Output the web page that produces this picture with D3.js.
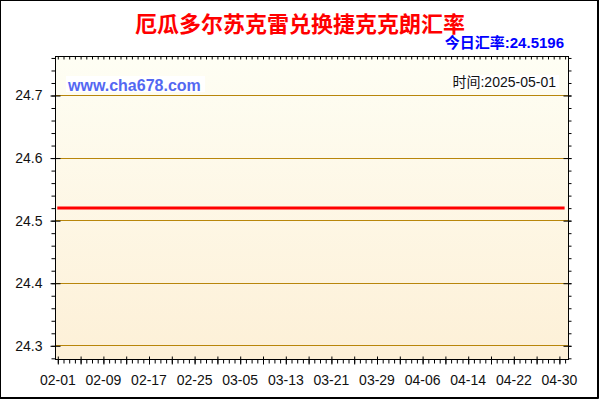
<!DOCTYPE html>
<html>
<head>
<meta charset="utf-8">
<script src="https://cdn.jsdelivr.net/npm/d3@7"></script>
<style>
  body { margin: 0; background: #fff; }
  svg { display: block; }
</style>
</head>
<body>
<svg id="chart" width="600" height="400"></svg>
<script>
// ---- data ----
const titleText = "厄瓜多尔苏克雷兑换捷克克朗汇率";
const todayText = "今日汇率:";
const todayRate = "24.5196";
const siteText = "www.cha678.com";
const timeText = "时间:2025-05-01";

const startDay = "2025-02-01";
// daily rates, 02-01 .. 05-01
const rates = [
  24.5196, 24.5196, 24.5196, 24.5196, 24.5196, 24.5196, 24.5196, 24.5196, 24.5196, 24.5196,
  24.5196, 24.5196, 24.5196, 24.5196, 24.5196, 24.5196, 24.5196, 24.5196, 24.5196, 24.5196,
  24.5196, 24.5196, 24.5196, 24.5196, 24.5196, 24.5196, 24.5196, 24.5196, 24.5196, 24.5196,
  24.5196, 24.5196, 24.5196, 24.5196, 24.5196, 24.5196, 24.5196, 24.5196, 24.5196, 24.5196,
  24.5196, 24.5196, 24.5196, 24.5196, 24.5196, 24.5196, 24.5196, 24.5196, 24.5196, 24.5196,
  24.5196, 24.5196, 24.5196, 24.5196, 24.5196, 24.5196, 24.5196, 24.5196, 24.5196, 24.5196,
  24.5196, 24.5196, 24.5196, 24.5196, 24.5196, 24.5196, 24.5196, 24.5196, 24.5196, 24.5196,
  24.5196, 24.5196, 24.5196, 24.5196, 24.5196, 24.5196, 24.5196, 24.5196, 24.5196, 24.5196,
  24.5196, 24.5196, 24.5196, 24.5196, 24.5196, 24.5196, 24.5196, 24.5196, 24.5196, 24.5196
];
const xLabels = ["02-01", "02-09", "02-17", "02-25", "03-05", "03-13",
                 "03-21", "03-29", "04-06", "04-14", "04-22", "04-30"];
const yTicks = [24.3, 24.4, 24.5, 24.6, 24.7];

// ---- layout ----
const plot = { left: 55, right: 568, top: 56, bottom: 359 };
const latin = "'Liberation Sans', Arial, sans-serif";
const cjk = "'Liberation Sans', 'Noto Sans CJK SC', sans-serif";

const svg = d3.select("#chart");
const parse = d3.timeParse("%Y-%m-%d");
const fmt = d3.timeFormat("%m-%d");
const day0 = parse(startDay);
const days = rates.map((v, i) => ({ date: d3.timeDay.offset(day0, i), value: v }));

const x = d3.scaleTime()
  .domain([days[0].date, days[days.length - 1].date])
  .range([57.3, 564.6]);
const y = d3.scaleLinear()
  .domain([24.3, 24.7])
  .range([345.3, 95]);

// background gradient
const grad = svg.append("defs").append("linearGradient")
  .attr("id", "bg").attr("x1", 0).attr("y1", 0).attr("x2", 0).attr("y2", 1);
grad.append("stop").attr("offset", "0%").attr("stop-color", "#fefef4");
grad.append("stop").attr("offset", "100%").attr("stop-color", "#fdf0d7");

svg.append("rect")
  .attr("x", plot.left).attr("y", plot.top)
  .attr("width", plot.right - plot.left).attr("height", plot.bottom - plot.top)
  .attr("fill", "url(#bg)");

// grid lines
svg.append("g").selectAll("line")
  .data(yTicks)
  .join("line")
  .attr("x1", plot.left).attr("x2", plot.right)
  .attr("y1", d => Math.round(y(d)) + 0.5).attr("y2", d => Math.round(y(d)) + 0.5)
  .attr("stroke", "#b8860b").attr("stroke-width", 1);

// rate line
svg.append("path")
  .datum(days)
  .attr("fill", "none")
  .attr("stroke", "#ff0000")
  .attr("stroke-width", 3)
  .attr("d", d3.line().x(d => x(d.date)).y(d => y(d.value)));

// plot frame
svg.append("rect")
  .attr("x", plot.left + 0.5).attr("y", plot.top + 0.5)
  .attr("width", plot.right - plot.left).attr("height", plot.bottom - plot.top)
  .attr("fill", "none").attr("stroke", "#000");

// ---- axes ----
const allDays = days.map(d => d.date);
const majorDays = allDays.filter((d, i) => i % 4 === 0);
const labelDays = xLabels.map(s => allDays.find(d => fmt(d) === s));
const minorY = d3.range(24.28, 24.765, 0.02);

function plain(g) {
  g.select(".domain").remove();
  g.selectAll(".tick line").attr("stroke", "#000");
}

// top: small daily ticks pointing in
svg.append("g")
  .attr("transform", `translate(0.5,${plot.top + 0.5})`)
  .call(d3.axisBottom(x).tickValues(allDays).tickSize(3).tickFormat(""))
  .call(plain);

// bottom: daily minor ticks, majors every 4 days
svg.append("g")
  .attr("transform", `translate(0.5,${plot.bottom + 0.5})`)
  .call(d3.axisBottom(x).tickValues(allDays).tickSize(4).tickFormat(""))
  .call(plain);
svg.append("g")
  .attr("transform", `translate(0.5,${plot.bottom + 0.5})`)
  .call(d3.axisBottom(x).tickValues(majorDays).tickSize(5).tickFormat(""))
  .call(plain)
  .call(g => g.selectAll(".tick line").attr("y1", -3));

// bottom labels
svg.append("g")
  .attr("transform", `translate(0,${plot.bottom})`)
  .call(d3.axisBottom(x).tickValues(labelDays).tickSize(0).tickPadding(0).tickFormat(fmt))
  .call(g => g.select(".domain").remove())
  .call(g => g.selectAll(".tick text")
    .attr("y", 26).attr("dy", 0)
    .attr("font-family", latin).attr("font-size", 14).attr("fill", "#111"));

// left axis
svg.append("g")
  .attr("transform", `translate(${plot.left + 0.5},0.5)`)
  .call(d3.axisLeft(y).tickValues(minorY).tickSize(4).tickFormat(""))
  .call(plain);
svg.append("g")
  .attr("transform", `translate(${plot.left + 0.5},0.5)`)
  .call(d3.axisLeft(y).tickValues(yTicks).tickSize(5).tickPadding(8).tickFormat(d3.format(".1f")))
  .call(plain)
  .call(g => g.selectAll(".tick line").attr("x1", 5))
  .call(g => g.selectAll(".tick text")
    .attr("font-family", latin).attr("font-size", 14).attr("fill", "#111"));

// right axis
svg.append("g")
  .attr("transform", `translate(${plot.right + 0.5},0.5)`)
  .call(d3.axisRight(y).tickValues(minorY).tickSize(3).tickFormat(""))
  .call(plain);
svg.append("g")
  .attr("transform", `translate(${plot.right + 0.5},0.5)`)
  .call(d3.axisRight(y).tickValues(yTicks).tickSize(3).tickFormat(""))
  .call(plain)
  .call(g => g.selectAll(".tick line").attr("x1", -5));

// ---- texts ----
svg.append("text")
  .attr("x", 300).attr("y", 32)
  .attr("text-anchor", "middle")
  .attr("font-family", "'Noto Sans CJK SC', sans-serif")
  .attr("font-weight", "bold").attr("font-size", 22)
  .attr("fill", "#ff0000")
  .text(titleText);

svg.append("text")
  .attr("x", 564).attr("y", 48)
  .attr("text-anchor", "end")
  .attr("font-family", cjk)
  .attr("font-weight", "bold").attr("font-size", 15)
  .attr("fill", "#0000ff")
  .text(todayText + todayRate);

// site watermark with white box
svg.append("rect")
  .attr("x", 66).attr("y", 76).attr("width", 139).attr("height", 16)
  .attr("fill", "#fff");
svg.append("text")
  .attr("x", 68).attr("y", 90.5)
  .attr("font-family", latin)
  .attr("font-weight", "bold").attr("font-size", 16)
  .attr("fill", "#5468f2")
  .text(siteText);

// time stamp with white box
svg.append("rect")
  .attr("x", 451).attr("y", 75).attr("width", 108).attr("height", 14)
  .attr("fill", "#fff");
svg.append("text")
  .attr("x", 556).attr("y", 87)
  .attr("text-anchor", "end")
  .attr("font-family", cjk)
  .attr("font-size", 14)
  .attr("fill", "#111")
  .text(timeText);

// outer border
svg.append("rect")
  .attr("x", 0.5).attr("y", 0.5).attr("width", 597).attr("height", 397)
  .attr("fill", "none").attr("stroke", "#000");
svg.append("path")
  .attr("d", "M598.5,0V398.5H0")
  .attr("fill", "none").attr("stroke", "#000");
</script>
</body>
</html>
